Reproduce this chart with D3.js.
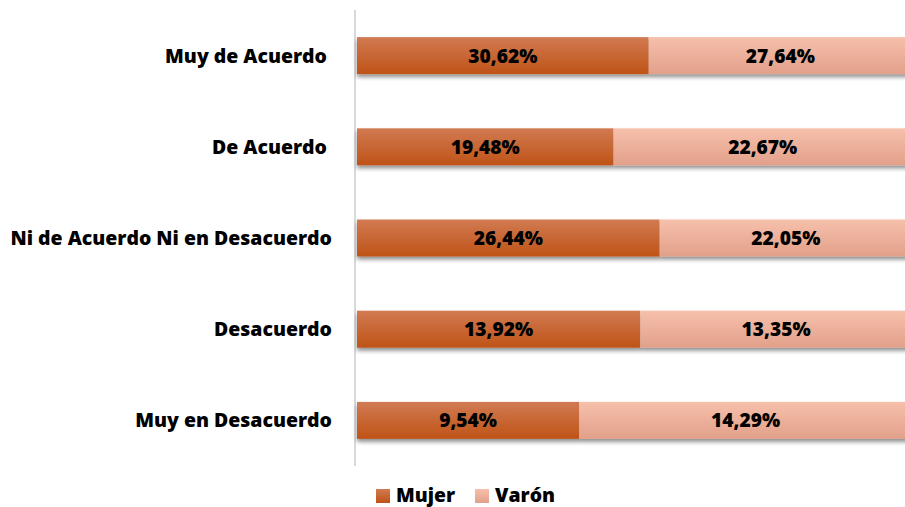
<!DOCTYPE html>
<html><head><meta charset="utf-8">
<script src="https://cdn.jsdelivr.net/npm/d3@7"></script>
<style>
html,body{margin:0;padding:0;background:#fff;overflow:hidden}
text{font-family:"Open Sans",Lato,sans-serif;font-weight:800;fill:#000}
</style></head><body>
<svg id="chart" width="905" height="507"></svg>
<script>
const categories = ["Muy de Acuerdo", "De Acuerdo", "Ni de Acuerdo Ni en Desacuerdo", "Desacuerdo", "Muy en Desacuerdo"];
const mujer = [30.62, 19.48, 26.44, 13.92, 9.54];
const varon = [27.64, 22.67, 22.05, 13.35, 14.29];
const seriesNames = ["Mujer", "Varón"];

const svg = d3.select("#chart");
const defs = svg.append("defs");
function grad(id, top, bottom){
  const g = defs.append("linearGradient").attr("id", id).attr("x1",0).attr("y1",0).attr("x2",0).attr("y2",1);
  g.append("stop").attr("offset","0%").attr("stop-color",top);
  g.append("stop").attr("offset","100%").attr("stop-color",bottom);
}
grad("gM", "#d17a52", "#bf5317");
grad("gV", "#f6c0ab", "#e2a08a");
const f = defs.append("filter").attr("id","sh").attr("x","-5%").attr("y","-30%").attr("width","110%").attr("height","190%");
f.append("feGaussianBlur").attr("in","SourceAlpha").attr("stdDeviation",2.2);
f.append("feOffset").attr("dx",0).attr("dy",3).attr("result","b");
f.append("feComponentTransfer").append("feFuncA").attr("type","linear").attr("slope",0.45);
const m = f.append("feMerge"); m.append("feMergeNode"); m.append("feMergeNode").attr("in","SourceGraphic");

const x = d3.scaleLinear().domain([0,1]).range([357, 912]);
const y = d3.scaleBand().domain(categories).range([10, 466]).paddingInner(0.595).paddingOuter(0.2975);

const rows = categories.map((c,i)=>{
  const t = mujer[i] + varon[i];
  return {c, m: mujer[i], v: varon[i], fm: mujer[i]/t};
});

svg.append("line").attr("x1",355).attr("x2",355).attr("y1",10).attr("y2",466)
  .attr("stroke","#d9d9d9").attr("stroke-width",2);

const g = svg.append("g");
rows.forEach(r=>{
  const yy = y(r.c), h = y.bandwidth();
  const grp = g.append("g").attr("filter","url(#sh)");
  grp.append("rect").attr("x",x(0)).attr("y",yy).attr("width",x(r.fm)-x(0)).attr("height",h).attr("fill","url(#gM)");
  grp.append("rect").attr("x",x(r.fm)).attr("y",yy).attr("width",x(1)-x(r.fm)).attr("height",h).attr("fill","url(#gV)");
  const fmt = v => v.toFixed(2).replace(".", ",") + "%";
  g.append("text").attr("x",(x(0)+x(r.fm))/2).attr("y",yy+h/2).attr("dy","0.36em")
    .attr("text-anchor","middle").attr("font-size",19.2).text(fmt(r.m));
  g.append("text").attr("x",(x(r.fm)+x(1))/2).attr("y",yy+h/2).attr("dy","0.36em")
    .attr("text-anchor","middle").attr("font-size",19.2).text(fmt(r.v));
});

const labelX = [327, 327, 332, 332, 332];
categories.forEach((c,i)=>{
  svg.append("text").attr("x",labelX[i]).attr("y",y(c)+y.bandwidth()/2).attr("dy","0.36em")
    .attr("text-anchor","end").attr("font-size",19.45).text(c);
});

const leg = svg.append("g");
const legX = [376, 475];
seriesNames.forEach((s,i)=>{
  leg.append("rect").attr("x",legX[i]).attr("y",489).attr("width",14).attr("height",14)
    .attr("fill", i===0 ? "url(#gM)" : "url(#gV)");
  leg.append("text").attr("x",legX[i]+20).attr("y",502).attr("font-size",19.4).text(s);
});
</script></body></html>
